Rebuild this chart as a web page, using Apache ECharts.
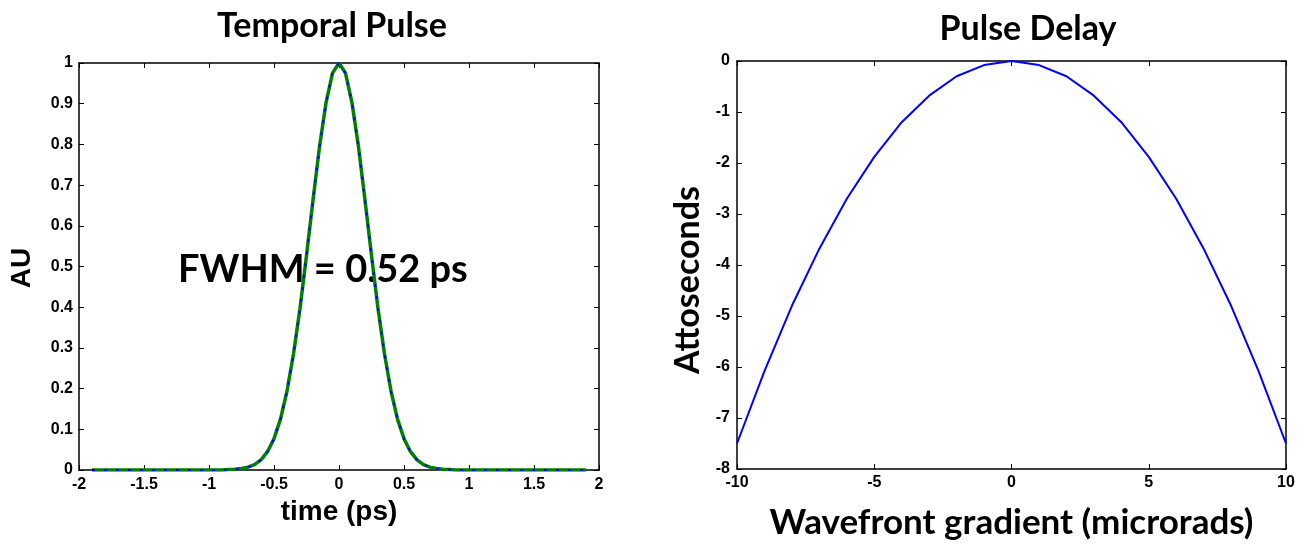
<!DOCTYPE html>
<html>
<head>
<meta charset="utf-8">
<script src="https://cdn.jsdelivr.net/npm/echarts@6/dist/echarts.min.js"></script>
<style>
  html, body { margin: 0; padding: 0; background: #fff; }
  #chart { width: 1304px; height: 548px; }
</style>
</head>
<body>
<div id="chart"></div>
<script>
// temporal pulse (time in ps, amplitude in AU)
var pulseTime = [-1.9, -1.5, -1.0, -0.9, -0.85, -0.8, -0.75, -0.7, -0.65, -0.6, -0.55, -0.5, -0.45, -0.4, -0.35, -0.3, -0.25, -0.2, -0.15, -0.1, -0.05,
  0, 0.05, 0.1, 0.15, 0.2, 0.25, 0.3, 0.35, 0.4, 0.45, 0.5, 0.55, 0.6, 0.65, 0.7, 0.75, 0.8, 0.85, 0.9, 1.0, 1.5, 1.9]
var pulseAmp = [0, 0, 0, 0, 0.001, 0.002, 0.004, 0.007, 0.013, 0.025, 0.045, 0.077, 0.125, 0.194, 0.285, 0.397, 0.527, 0.663, 0.794, 0.902, 0.975,
  1, 0.975, 0.902, 0.794, 0.663, 0.527, 0.397, 0.285, 0.194, 0.125, 0.077, 0.045, 0.025, 0.013, 0.007, 0.004, 0.002, 0.001, 0, 0, 0, 0]

// pulse delay vs wavefront gradient
var gradient = [-10, -9, -8, -7, -6, -5, -4, -3, -2, -1, 0, 1, 2, 3, 4, 5, 6, 7, 8, 9, 10]
var delay = [-7.5, -6.08, -4.8, -3.68, -2.7, -1.88, -1.2, -0.68, -0.3, -0.08, 0, -0.08, -0.3, -0.68, -1.2, -1.88, -2.7, -3.68, -4.8, -6.08, -7.5]

function pairs(xs, ys) {
    return xs.map(function (x, i) { return [x, ys[i]] })
}

var tickFont = { fontFamily: 'Liberation Sans', fontWeight: 'bold', fontSize: 16, color: '#000' }
var frame = { show: true, onZero: false, lineStyle: { color: '#000', width: 1.5 } }
var inTick = { show: true, inside: true, length: 5, lineStyle: { color: '#000', width: 1 } }
var calibri = { fontFamily: 'Lato', fontWeight: 'bold', color: '#000' }

function boxAxis(base, gridIndex, pos) {
    return Object.assign({
        type: 'value', gridIndex: gridIndex, position: pos,
        axisLine: frame, axisTick: inTick, axisLabel: { show: false },
        splitLine: { show: false }
    }, base)
}

var chart = echarts.init(document.getElementById('chart'))

var option = {
    animation: false,
    title: [
        { text: 'Temporal Pulse', left: 327, top: 4, textAlign: 'center',
          textStyle: Object.assign({ fontSize: 34 }, calibri) },
        { text: 'Pulse Delay', left: 1023, top: 7, textAlign: 'center',
          textStyle: Object.assign({ fontSize: 34 }, calibri) }
    ],
    grid: [
        { left: 79, top: 63, width: 520, height: 407 },
        { left: 737, top: 61, width: 549, height: 408 }
    ],
    xAxis: [
        { type: 'value', gridIndex: 0, min: -2, max: 2, interval: 0.5,
          name: 'time (ps)', nameLocation: 'middle', nameGap: 28,
          nameTextStyle: { fontFamily: 'Liberation Sans', fontWeight: 'bold', fontSize: 28, color: '#000' },
          axisLine: frame, axisTick: inTick, splitLine: { show: false },
          axisLabel: Object.assign({ margin: 7 }, tickFont) },
        boxAxis({ min: -2, max: 2, interval: 0.5 }, 0, 'top'),
        { type: 'value', gridIndex: 1, min: -10, max: 10, interval: 5,
          name: 'Wavefront gradient (microrads)', nameLocation: 'middle', nameGap: 36,
          nameTextStyle: Object.assign({ fontSize: 35 }, calibri),
          axisLine: frame, axisTick: inTick, splitLine: { show: false },
          axisLabel: Object.assign({ margin: 6 }, tickFont) },
        boxAxis({ min: -10, max: 10, interval: 5 }, 1, 'top')
    ],
    yAxis: [
        { type: 'value', gridIndex: 0, min: 0, max: 1, interval: 0.1,
          axisLine: frame, axisTick: inTick, splitLine: { show: false },
          axisLabel: Object.assign({ margin: 6 }, tickFont) },
        boxAxis({ min: 0, max: 1, interval: 0.1 }, 0, 'right'),
        { type: 'value', gridIndex: 1, min: -8, max: 0, interval: 1,
          axisLine: frame, axisTick: inTick, splitLine: { show: false },
          axisLabel: Object.assign({ margin: 7 }, tickFont) },
        boxAxis({ min: -8, max: 0, interval: 1 }, 1, 'right')
    ],
    graphic: [
        { type: 'text', left: 178, top: 251,
          style: Object.assign({ text: 'FWHM = 0.52 ps', fontSize: 38 }, calibri, { fill: '#000' }) },
        { type: 'text', x: 22, y: 268, rotation: Math.PI / 2,
          style: { text: 'AU', fontFamily: 'Liberation Sans', fontWeight: 'bold', fontSize: 28, fill: '#000',
                   align: 'center', verticalAlign: 'middle' } },
        { type: 'text', x: 688, y: 280, rotation: Math.PI / 2,
          style: Object.assign({ text: 'Attoseconds', fontSize: 34 }, calibri,
                   { fill: '#000', align: 'center', verticalAlign: 'middle' }) }
    ],
    series: [
        { type: 'line', xAxisIndex: 0, yAxisIndex: 0, data: pairs(pulseTime, pulseAmp),
          symbol: 'none', lineStyle: { color: '#008000', width: 3.5 } },
        { type: 'line', xAxisIndex: 0, yAxisIndex: 0, data: pairs(pulseTime, pulseAmp),
          symbol: 'none', lineStyle: { color: '#0000ff', width: 2, type: [3, 9] } },
        { type: 'line', xAxisIndex: 2, yAxisIndex: 2, data: pairs(gradient, delay),
          symbol: 'none', lineStyle: { color: '#0000ff', width: 2 } }
    ]
}

chart.setOption(option)
window.addEventListener('resize', function () { chart.resize() })
</script>
</body>
</html>
